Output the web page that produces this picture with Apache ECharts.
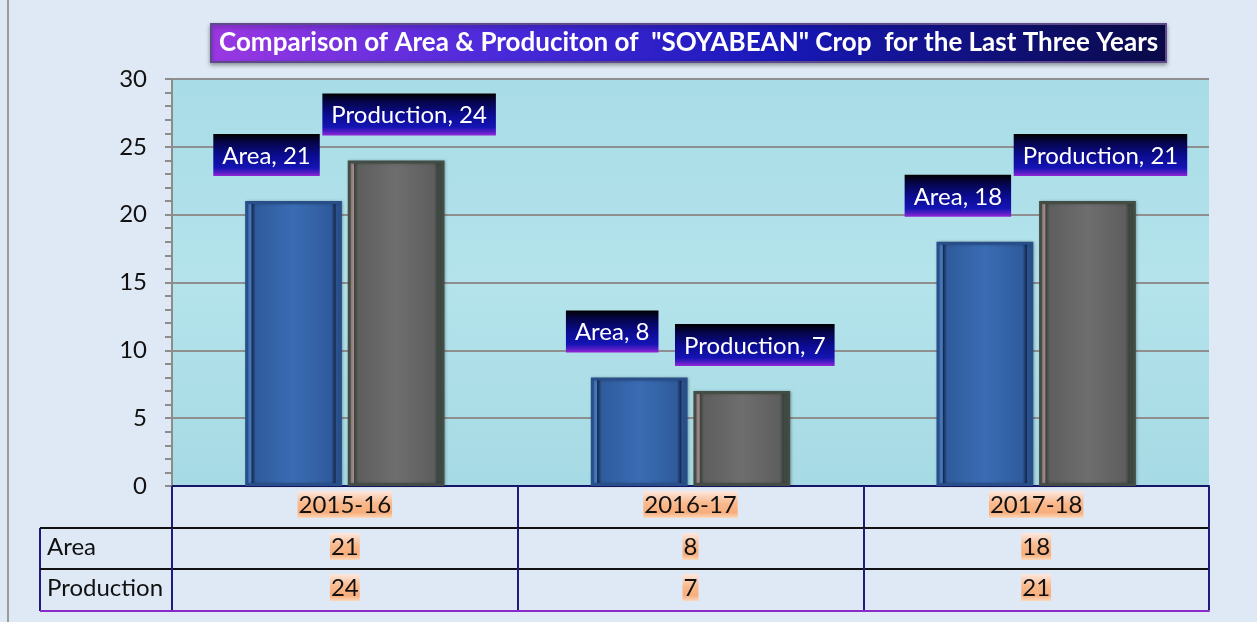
<!DOCTYPE html>
<html>
<head>
<meta charset="utf-8">
<style>
  html, body { margin: 0; padding: 0; background: #dfe9f5; }
  #chart { width: 1257px; height: 622px; }
</style>
<script src="https://cdn.jsdelivr.net/npm/echarts@6/dist/echarts.min.js"></script>
</head>
<body>
<div id="chart"></div>
<script>
const titleText = 'Comparison of Area & Produciton of  "SOYABEAN" Crop  for the Last Three Years';
const categories = ['2015-16', '2016-17', '2017-18'];
const areaValues = [21, 8, 18];
const productionValues = [24, 7, 21];
const yTicks = { min: 0, max: 30, step: 5 };

const FONT = 'Lato';
const chart = echarts.init(document.getElementById('chart'));

function vGrad(stops) {
  return new echarts.graphic.LinearGradient(0, 0, 0, 1,
    stops.map(([offset, color]) => ({ offset, color })));
}
function hGrad(stops) {
  return new echarts.graphic.LinearGradient(0, 0, 1, 0,
    stops.map(([offset, color]) => ({ offset, color })));
}

const peach = vGrad([[0, '#fde8e0'], [0.45, '#f9b98c'], [0.8, '#f8ae7c'], [1, '#fcd8bc']]);
const labelBox = vGrad([[0, '#000000'], [0.2, '#05054a'], [0.5, '#0b0b90'], [0.8, '#1414b4'], [0.9, '#4a1cc4'], [1, '#9426d6']]);

function barLabel(offsetX) {
  return {
    show: true,
    position: 'top',
    distance: 25,
    offset: [offsetX, 0],
    formatter: '{a}, {c}',
    color: '#ffffff',
    fontFamily: FONT,
    fontSize: 24,
    padding: [10, 9, 8, 9],
    backgroundColor: labelBox
  };
}

function tableAxis(offset, values, name, lineColor) {
  return {
    type: 'category',
    data: categories,
    position: 'bottom',
    offset,
    axisLine: { show: true, lineStyle: { color: lineColor, width: 2 } },
    axisTick: { show: true, interval: 0, length: 41, lineStyle: { color: '#1c1c80', width: 2 } },
    axisLabel: {
      interval: 0,
      margin: 5,
      formatter: (v, i) => values ? String(values[i]) : v,
      fontFamily: FONT,
      fontSize: 24,
      color: '#111',
      padding: [2, 1, 1, 1],
      backgroundColor: peach
    },
    name,
    nameLocation: 'start',
    nameGap: 125,
    nameTextStyle: {
      align: 'left',
      verticalAlign: 'top',
      padding: [7, 0, 0, 0],
      fontFamily: FONT,
      fontSize: 24,
      color: '#111'
    },
    splitLine: { show: false }
  };
}

const gridBox = { left: 172, right: 48, top: 79, bottom: 136 };
const tableLeft = 40;
const rowLines = [528, 569, 611];

function bevel(rim, dark, face, faceMid, shade) {
  return hGrad([[0, rim], [0.06, rim], [0.07, dark], [0.11, face],
    [0.5, faceMid], [0.89, face], [0.93, dark], [0.94, shade], [1, shade]]);
}

chart.setOption({
  backgroundColor: '#dfe9f5',
  animation: false,
  title: {
    text: titleText,
    left: 211,
    top: 24,
    padding: [6, 8, 6, 8],
    backgroundColor: hGrad([[0, '#9b38e2'], [0.3, '#4a2ada'], [0.6, '#1818b8'], [1, '#0a0a48']]),
    borderColor: '#5d4a8c',
    borderWidth: 2,
    shadowColor: 'rgba(0,0,0,0.35)',
    shadowBlur: 4,
    shadowOffsetY: 2,
    textStyle: {
      color: '#ffffff',
      fontFamily: FONT,
      fontWeight: 'bold',
      fontSize: 26
    }
  },
  grid: Object.assign({
    show: true,
    backgroundColor: vGrad([[0, '#a8dce7'], [0.5, '#b4e3eb'], [1, '#a6dae4']]),
    borderWidth: 0
  }, gridBox),
  xAxis: [
    tableAxis(0, null, '', '#15156a'),
    tableAxis(42, areaValues, 'Area', '#111111'),
    tableAxis(83, productionValues, 'Production', '#111111'),
    {
      type: 'category',
      data: categories,
      position: 'bottom',
      offset: 125,
      axisLine: { show: true, lineStyle: { color: '#8a2ac8', width: 2 } },
      axisTick: { show: false },
      axisLabel: { show: false }
    }
  ],
  yAxis: {
    type: 'value',
    min: yTicks.min,
    max: yTicks.max,
    interval: yTicks.step,
    axisLine: { show: true, lineStyle: { color: '#8c8c8c', width: 2 } },
    axisTick: { show: true, length: 7, lineStyle: { color: '#8c8c8c', width: 2 } },
    minorTick: { show: true, splitNumber: 5, length: 7, lineStyle: { color: '#8c8c8c', width: 2 } },
    splitLine: { show: true, lineStyle: { color: '#8f8f8f', width: 2 } },
    axisLabel: { margin: 25, fontFamily: FONT, fontSize: 24, color: '#111' }
  },
  series: [
    {
      name: 'Area',
      type: 'bar',
      data: areaValues,
      barWidth: '28%',
      barGap: '6%',
      itemStyle: {
        color: bevel('#4a80c8', '#15294d', '#2f5b9c', '#3a6cb4', '#2a5290'),
        borderColor: '#284f8a',
        borderWidth: 3,
        shadowColor: 'rgba(0,0,0,0.25)',
        shadowBlur: 3,
        shadowOffsetX: 1
      },
      label: barLabel(-27)
    },
    {
      name: 'Production',
      type: 'bar',
      data: productionValues,
      barWidth: '28%',
      barGap: '6%',
      itemStyle: {
        color: bevel('#a88e8e', '#3a433d', '#5e5e5e', '#6e6e6e', '#3f4a42'),
        borderColor: '#434d45',
        borderWidth: 3,
        shadowColor: 'rgba(0,0,0,0.25)',
        shadowBlur: 3,
        shadowOffsetX: 1
      },
      label: barLabel(13)
    }
  ],
  graphic: [
    { type: 'line', shape: { x1: 8, y1: 0, x2: 8, y2: 622 }, style: { stroke: '#9a9a9a', lineWidth: 2 } },
    { type: 'line', shape: { x1: tableLeft, y1: rowLines[0], x2: tableLeft, y2: rowLines[2] }, style: { stroke: '#1c1c80', lineWidth: 2 } },
    { type: 'line', shape: { x1: tableLeft, y1: rowLines[0], x2: gridBox.left, y2: rowLines[0] }, style: { stroke: '#111', lineWidth: 2 } },
    { type: 'line', shape: { x1: tableLeft, y1: rowLines[1], x2: gridBox.left, y2: rowLines[1] }, style: { stroke: '#111', lineWidth: 2 } },
    { type: 'line', shape: { x1: tableLeft, y1: rowLines[2], x2: gridBox.left, y2: rowLines[2] }, style: { stroke: '#8a2ac8', lineWidth: 2 } }
  ]
});
</script>
</body>
</html>
